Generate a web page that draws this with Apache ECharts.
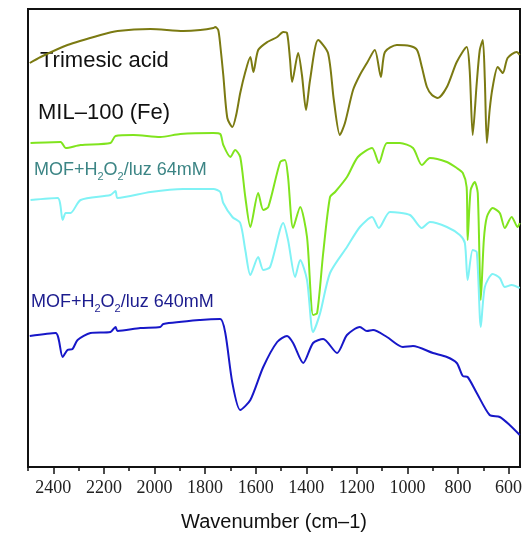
<!DOCTYPE html>
<html><head><meta charset="utf-8">
<script src="https://cdn.jsdelivr.net/npm/echarts@6/dist/echarts.min.js"></script>
<style>html,body{margin:0;padding:0;background:#fff}#c{width:522px;height:539px}</style>
</head><body><div id="c"></div>
<script>
// wavenumber (cm-1), offset transmittance (a.u.)
const trimesic = [[2493,404],[2450,410],[2344,422],[2213,432],[2146,436],[2016,438],[1886,436],[1819,437],[1767,439],[1760,440],[1748,437],[1740,422],[1728,392],[1712,349],[1692,340],[1677,352],[1661,374],[1641,395],[1621,410],[1609,395],[1590,417],[1554,425],[1515,430],[1491,435],[1476,434],[1464,407],[1456,385],[1432,414],[1417,392],[1401,357],[1385,387],[1353,427],[1314,414],[1291,367],[1267,332],[1247,344],[1215,377],[1188,392],[1160,404],[1129,417],[1105,390],[1089,415],[1042,422],[990,421],[962,417],[943,400],[923,380],[903,372],[880,369],[844,380],[805,405],[766,420],[754,397],[742,332],[726,384],[714,417],[702,427],[694,387],[686,324],[675,357],[663,380],[643,400],[623,394],[604,409],[568,415],[556,412]];
const mil100 = [[2490,324],[2371,325],[2351,319],[2292,322],[2174,324],[2154,331],[2083,332],[1977,330],[1898,333],[1767,334],[1740,333],[1728,322],[1700,310],[1681,317],[1661,310],[1641,270],[1621,240],[1590,274],[1570,257],[1550,260],[1503,305],[1484,307],[1472,290],[1452,239],[1424,260],[1397,230],[1373,152],[1357,154],[1333,214],[1306,270],[1286,275],[1239,290],[1196,310],[1140,319],[1113,304],[1081,324],[1030,324],[978,319],[943,302],[911,309],[844,305],[805,299],[781,294],[766,280],[762,227],[750,277],[734,285],[722,274],[710,167],[698,227],[686,250],[663,259],[635,254],[615,239],[588,250],[564,240],[556,244]];
const mof64 = [[2490,267],[2383,269],[2363,247],[2351,254],[2332,254],[2292,267],[2174,272],[2154,276],[2146,269],[2016,275],[1886,278],[1767,278],[1740,275],[1728,264],[1692,250],[1661,244],[1641,217],[1621,192],[1590,210],[1570,197],[1543,200],[1491,244],[1472,227],[1444,190],[1424,207],[1397,187],[1373,135],[1345,154],[1306,194],[1239,220],[1188,240],[1140,250],[1113,239],[1069,255],[990,252],[943,239],[911,245],[844,240],[793,232],[773,224],[762,187],[742,217],[726,215],[710,140],[694,180],[663,193],[635,189],[615,180],[588,182],[556,179]];
const mof640 = [[2493,131],[2391,134],[2363,110],[2344,117],[2324,118],[2304,127],[2253,134],[2174,135],[2154,140],[2146,136],[2056,139],[1977,140],[1965,143],[1819,147],[1740,148],[1720,134],[1692,84],[1661,57],[1621,67],[1570,100],[1515,125],[1476,131],[1452,124],[1412,104],[1373,124],[1333,128],[1278,114],[1239,132],[1188,140],[1160,136],[1136,137],[1081,130],[1018,120],[978,121],[899,114],[844,110],[805,104],[781,91],[762,90],[726,74],[675,52],[635,50],[596,42],[556,32]];
const seriesNames = ['Trimesic acid','MIL\u2013100 (Fe)','MOF+H2O2/luz 64mM','MOF+H2O2/luz 640mM'];
const labelTicks = [2400,2200,2000,1800,1600,1400,1200,1000,800,600];
const minorTicks = [2500,2400,2300,2200,2100,2000,1900,1800,1700,1600,1500,1400,1300,1200,1100,1000,900,800,700,600];

const colors = ['#7b7a12','#80e41e','#80f2f5','#1717c8'];
const chart = echarts.init(document.getElementById('c'));
const sans = 'Liberation Sans, Arial';
chart.setOption({
  animation:false,
  grid:{left:28,right:2,top:9,bottom:72,show:true,borderColor:'#111',borderWidth:2,backgroundColor:'transparent',containLabel:false,outerBoundsMode:'none'},
  xAxis:[{
    type:'value', min:555, max:2500, inverse:true,
    name:'Wavenumber (cm\u20131)', nameLocation:'middle', nameGap:45,
    nameTextStyle:{fontFamily:sans,fontSize:20,color:'#111'},
    axisLine:{lineStyle:{color:'#111',width:2}},
    axisTick:{show:true,length:7,lineStyle:{color:'#111',width:1.5},customValues:labelTicks},
    axisLabel:{customValues:labelTicks,formatter:v=>String(v),hideOverlap:false,fontFamily:'Liberation Serif, Times New Roman',fontSize:18,color:'#222',margin:12},
    splitLine:{show:false}
  },{
    type:'value', min:555, max:2500, inverse:true, position:'bottom',
    axisLine:{show:false},
    axisTick:{show:true,length:4,lineStyle:{color:'#111',width:1.5},customValues:minorTicks},
    axisLabel:{show:false}, splitLine:{show:false}
  }],
  yAxis:{type:'value',min:0,max:458,axisLine:{show:true,lineStyle:{color:'#111',width:2}},axisTick:{show:false},axisLabel:{show:false},splitLine:{show:false}},
  series:[trimesic,mil100,mof64,mof640].map((d,i)=>({
    type:'line', name:seriesNames[i], data:d, showSymbol:false, smooth:0.25,
    lineStyle:{color:colors[i],width:2}, itemStyle:{color:colors[i]}, z:2+i
  })),
  graphic:[
    {type:'text',left:40,top:50,style:{text:'Trimesic acid',fontFamily:sans,fontSize:22,fill:'#111'}},
    {type:'text',left:38,top:102,style:{text:'MIL\u2013100 (Fe)',fontFamily:sans,fontSize:22,fill:'#111'}},
    {type:'text',left:34,top:161,style:{fill:'#3c8585',text:'{a|MOF+H}{s|2}{a|O}{s|2}{a|/luz 64mM}',rich:{a:{fontFamily:sans,fontSize:18,fill:'#3c8585'},s:{fontFamily:sans,fontSize:11,fill:'#3c8585',padding:[14,0,0,0]}}}},
    {type:'text',left:31,top:293,style:{fill:'#1c1c8e',text:'{a|MOF+H}{s|2}{a|O}{s|2}{a|/luz 640mM}',rich:{a:{fontFamily:sans,fontSize:18,fill:'#1c1c8e'},s:{fontFamily:sans,fontSize:11,fill:'#1c1c8e',padding:[14,0,0,0]}}}}
  ]
});
</script></body></html>
